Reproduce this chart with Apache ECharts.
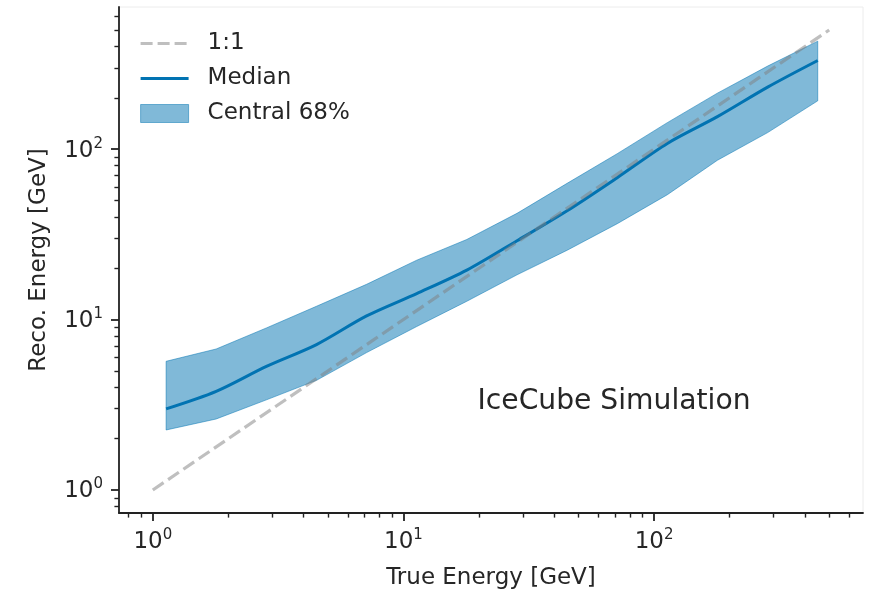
<!DOCTYPE html>
<html>
<head>
<meta charset="utf-8">
<script src="https://cdn.jsdelivr.net/npm/echarts@6/dist/echarts.min.js"></script>
<style>
html,body{margin:0;padding:0;background:#fff;}
#c{width:874px;height:589px;}
</style>
</head>
<body>
<div id="c"></div>
<script>
// ---- data (GeV) ----
const trueEnergy = [1.13, 1.79, 2.84, 4.50, 7.13, 11.3, 17.9, 28.4, 45.0, 71.3, 113, 179, 284, 450];
const medianReco = [2.99, 3.79, 5.31, 7.13, 10.5, 14.2, 19.5, 29.0, 43.5, 68, 108, 155, 231, 331];
const upper68    = [5.69, 6.72, 8.93, 11.97, 16.1, 22.3, 29.5, 42, 63, 94, 143, 213, 307, 430];
const lower68    = [2.25, 2.61, 3.38, 4.4, 6.4, 9.1, 12.8, 18.3, 25.5, 36.5, 54, 86, 125, 192];
const oneToOne   = [1, 500];
const majorTicks = [1, 10, 100];
const minorTicks = [0.8, 0.9, 2, 3, 4, 5, 6, 7, 8, 9, 20, 30, 40, 50, 60, 70, 80, 90, 200, 300, 400, 500, 600];
const axisMin = 0.733, axisMax = 682;

const L = v => Math.log10(v);
const lx = trueEnergy.map(L), lmed = medianReco.map(L), lup = upper68.map(L), llo = lower68.map(L);
const lmin = L(axisMin), lmax = L(axisMax);
const FONT = 'DejaVu Sans';
const TXT = '#262626';
const BLUE = '#0173b2';
const BAND = 'rgba(1,115,178,0.5)';
const DASH = 'rgba(128,128,128,0.5)';

const labelRich = {
  b: {fontSize: 23, fontFamily: FONT, color: TXT, lineHeight: 26, verticalAlign: 'bottom'},
  s: {fontSize: 15, fontFamily: FONT, color: TXT, verticalAlign: 'top'}
};
const fmt = v => '{b|10}{s|' + Math.round(v) + '}';

function mkAxis(dim, major) {
  const a = {
    type: 'value', min: lmin, max: lmax, gridIndex: 0,
    position: dim === 'x' ? 'bottom' : 'left',
    splitLine: {show: false},
    axisLine: {show: major, onZero: false, lineStyle: {color: '#222', width: 1.8}},
    axisTick: {show: true, inside: false,
      customValues: (major ? majorTicks : minorTicks).map(L),
      length: major ? 8 : 4.6,
      lineStyle: {color: '#222', width: major ? 1.8 : 1.4}},
    axisLabel: major ? {
      show: true, customValues: majorTicks.map(L), formatter: fmt, rich: labelRich,
      margin: dim === 'x' ? 15 : 16, fontFamily: FONT
    } : {show: false}
  };
  if (major) {
    a.name = dim === 'x' ? 'True Energy [GeV]' : 'Reco. Energy [GeV]';
    a.nameLocation = 'middle';
    a.nameGap = dim === 'x' ? 54 : 68;
    a.nameTextStyle = {fontSize: 23, fontFamily: FONT, color: TXT};
  }
  return a;
}

const noSym = {color: 'rgba(0,0,0,0)', borderColor: 'rgba(0,0,0,0)', borderWidth: 0};

const chart = echarts.init(document.getElementById('c'), null, {renderer: 'canvas'});
chart.setOption({
  animation: false,
  backgroundColor: '#fff',
  grid: {left: 119, right: 11, top: 7, bottom: 76, containLabel: false, outerBoundsMode: 'none',
         show: true, borderColor: '#ececec', borderWidth: 1, backgroundColor: 'transparent'},
  xAxis: [mkAxis('x', true), mkAxis('x', false)],
  yAxis: [mkAxis('y', true), mkAxis('y', false)],
  legend: {
    orient: 'vertical', left: 134, top: 27, padding: 5,
    itemWidth: 48, itemHeight: 18, itemGap: 12,
    textStyle: {fontSize: 23, fontFamily: FONT, color: TXT, lineHeight: 23, padding: [0, 0, 0, 14]},
    data: [
      {name: '1:1', itemStyle: noSym, lineStyle: {color: DASH, width: 3.2, type: [12, 5], cap: 'butt'}},
      {name: 'Median', itemStyle: noSym, lineStyle: {color: BLUE, width: 3, type: 'solid'}},
      {name: 'Central 68%', icon: 'rect', itemStyle: {color: BAND, borderColor: BAND, borderWidth: 1}}
    ]
  },
  graphic: [{
    type: 'text', x: 614, y: 402, z: 100,
    style: {text: 'IceCube Simulation', fontSize: 28.2, fontFamily: FONT, fill: TXT, align: 'center', verticalAlign: 'middle'}
  }],
  series: [
    {
      type: 'custom', name: 'Central 68%', xAxisIndex: 0, yAxisIndex: 0, z: 1,
      itemStyle: {color: BAND},
      data: lx.map((x, i) => [x, llo[i], lup[i]]),
      encode: {x: 0, y: [1, 2]},
      renderItem: function (params, api) {
        if (params.dataIndex !== 0) return null;
        const pts = [];
        for (let i = 0; i < lx.length; i++) pts.push(api.coord([lx[i], lup[i]]));
        for (let i = lx.length - 1; i >= 0; i--) pts.push(api.coord([lx[i], llo[i]]));
        return {type: 'polygon', shape: {points: pts}, style: {fill: BAND, stroke: BAND, lineWidth: 1}};
      }
    },
    {
      type: 'line', name: 'Median', xAxisIndex: 0, yAxisIndex: 0, z: 3,
      symbol: 'none', smooth: 0.3,
      lineStyle: {color: BLUE, width: 3},
      itemStyle: {color: BLUE},
      data: lx.map((x, i) => [x, lmed[i]])
    },
    {
      type: 'line', name: '1:1', xAxisIndex: 0, yAxisIndex: 0, z: 4,
      symbol: 'none',
      lineStyle: {color: DASH, width: 3.2, type: [13, 5.5]},
      itemStyle: {color: DASH},
      data: oneToOne.map(v => [L(v), L(v)])
    }
  ]
});
</script>
</body>
</html>
